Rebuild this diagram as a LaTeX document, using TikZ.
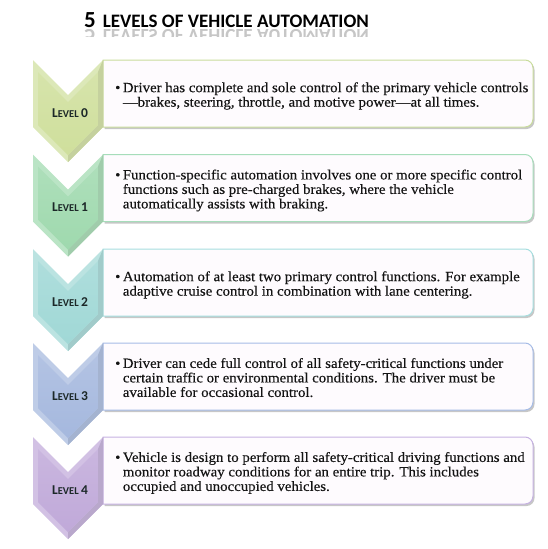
\documentclass[tikz,border=0pt]{standalone}
\usepackage{fontspec}
\usepackage{graphicx}
\setmainfont{Liberation Serif}[FakeStretch=1.06,FakeBold=0.3]
\newfontfamily\calib{Carlito}
\definecolor{c0}{HTML}{CFDF9C}
\definecolor{c1}{HTML}{9FD9AE}
\definecolor{c2}{HTML}{A0D8D6}
\definecolor{c3}{HTML}{A5B8DE}
\definecolor{c4}{HTML}{C0A9D9}
\definecolor{b0}{HTML}{C9DC9C}
\definecolor{b1}{HTML}{A6DDBA}
\definecolor{b2}{HTML}{A6DEDF}
\definecolor{b3}{HTML}{A6BCE6}
\definecolor{b4}{HTML}{C6B2E2}
\definecolor{boxfill}{HTML}{FEFBFE}
\definecolor{labelc}{HTML}{1C2828}
\tikzset{
  bodytext/.style={anchor=west, inner sep=0, align=left, font=\fontsize{14}{14.5}\selectfont, text=black!92},
  lvllabel/.style={anchor=center, inner sep=0, font=\calib\bfseries, text=labelc},
  titletext/.style={anchor=base west, inner sep=0, font=\calib\bfseries},
}
\newcommand\lvlrow[5]{%
  \fill[black!22] (104.5,-#1-2) -- (526.5,-#1-2) arc[start angle=90,end angle=0,radius=8] -- (534.5,-#1-61) arc[start angle=0,end angle=-90,radius=8] -- (104.5,-#1-69) -- cycle;
  \filldraw[fill=boxfill, draw=#3, line width=1] (103,-#1) -- (525,-#1) arc[start angle=90,end angle=0,radius=8] -- (533,-#1-59) arc[start angle=0,end angle=-90,radius=8] -- (103,-#1-67) -- cycle;
  \fill[#2!72!white] (33,-#1) -- (68,-#1-35) -- (103,-#1) -- (103,-#1-67) -- (68,-#1-102) -- (33,-#1-67) -- cycle;
  \fill[#2!90!black!85] (103,-#1) -- (103,-#1-67) -- (68,-#1-102) -- (68,-#1-95) -- (98,-#1-65) -- (98,-#1-12) -- cycle;
  \shade[top color=#2!85!white, bottom color=#2] (38,-#1-12) -- (68,-#1-42) -- (98,-#1-12) -- (98,-#1-65) -- (68,-#1-95) -- (38,-#1-65) -- cycle;
  \node[lvllabel] (#5) at (70,-#1-53) {{\fontsize{13.5}{13.5}\selectfont L}{\fontsize{10.5}{10.5}\selectfont EVEL} {\fontsize{13.5}{13.5}\selectfont #4}};
}
\newcommand\ttl{{\fontsize{23}{23}\selectfont 5}\hspace{7pt}{\fontsize{19}{19}\selectfont LEVELS OF VEHICLE AUTOMATION}}
\begin{document}
\begin{tikzpicture}[x=1pt,y=1pt]
\useasboundingbox (0,0) rectangle (548,-549);
\node[titletext] (title) at (84,-27) {\ttl};
\begin{scope}
  \clip (80,-29.5) rectangle (380,-36.5);
  \node[titletext, text=gray!45] (titleref) at (84,-29.5) {\scalebox{1}[-1]{\ttl}};
\end{scope}
\lvlrow{60}{c0}{b0}{0}{l0}
\lvlrow{154.5}{c1}{b1}{1}{l1}
\lvlrow{249}{c2}{b2}{2}{l2}
\lvlrow{343}{c3}{b3}{3}{l3}
\lvlrow{437}{c4}{b4}{4}{l4}
\node[bodytext] (t0) at (115,-96.5) {\begin{tabular}{@{}l@{\hspace{2.5pt}}l@{}}•&Driver has complete and sole control of the primary vehicle controls\\&—brakes, steering, throttle, and motive power—at all times.\end{tabular}};
\node[bodytext] (t1) at (115,-191) {\begin{tabular}{@{}l@{\hspace{2.5pt}}l@{}}•&Function-specific automation involves one or more specific control\\&functions such as pre-charged brakes, where the vehicle\\&automatically assists with braking.\end{tabular}};
\node[bodytext] (t2) at (115,-285.5) {\begin{tabular}{@{}l@{\hspace{2.5pt}}l@{}}•&Automation of at least two primary control functions. For example\\&adaptive cruise control in combination with lane centering.\end{tabular}};
\node[bodytext] (t3) at (115,-379.5) {\begin{tabular}{@{}l@{\hspace{2.5pt}}l@{}}•&Driver can cede full control of all safety-critical functions under\\&certain traffic or environmental conditions. The driver must be\\&available for occasional control.\end{tabular}};
\node[bodytext] (t4) at (115,-473.5) {\begin{tabular}{@{}l@{\hspace{2.5pt}}l@{}}•&Vehicle is design to perform all safety-critical driving functions and\\&monitor roadway conditions for an entire trip. This includes\\&occupied and unoccupied vehicles.\end{tabular}};
\end{tikzpicture}
\end{document}
